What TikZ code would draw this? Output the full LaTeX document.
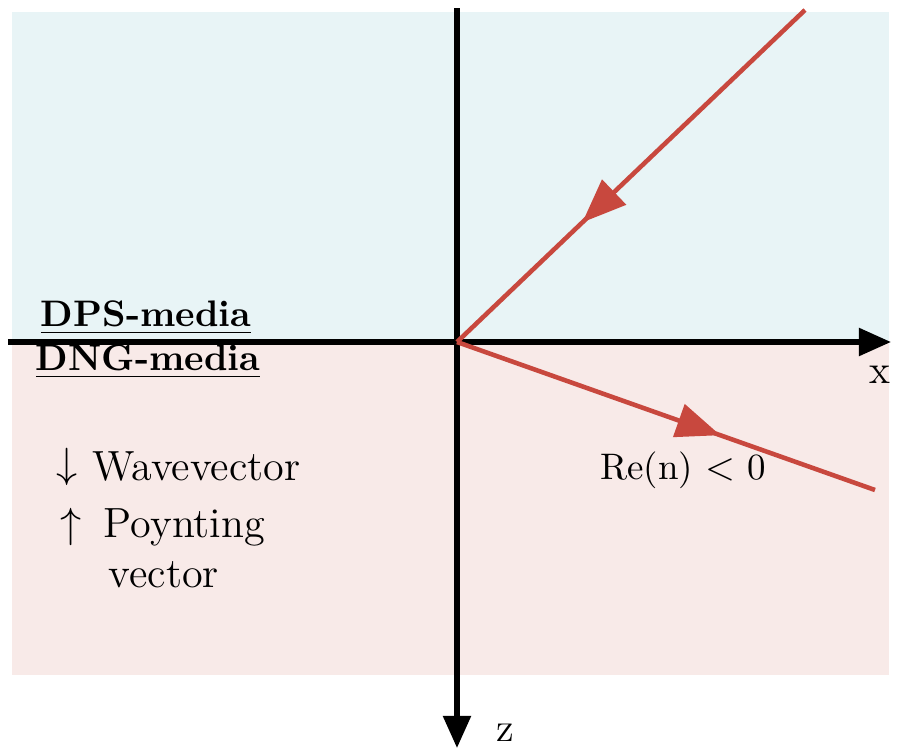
\documentclass[tikz,border=0pt]{standalone}
\usepackage{amsmath}
\usepackage{xcolor}
\usepackage{tikz}
\usetikzlibrary{arrows.meta, positioning, decorations.markings}

\definecolor{dpsblue}{RGB}{232,244,246}
\definecolor{dngpink}{RGB}{248,234,232}
\definecolor{rayred}{RGB}{200,72,62}

\begin{document}
\begin{tikzpicture}[
  x=0.01cm, y=-0.01cm,
  axis/.style={draw, line width=1.5pt, -{Triangle[length=3.2mm, width=2.7mm]}},
  ray/.style={draw=rayred, line width=1.3pt, postaction={decorate},
    decoration={markings, mark=at position #1 with {\arrow[rayred]{Triangle[length=4.4mm, width=3.4mm]}}}},
  medialabel/.style={font=\fontsize{10.5}{12}\selectfont\bfseries},
  legend/.style={font=\fontsize{12}{14}\selectfont, anchor=west, inner sep=0pt}
]
\useasboundingbox (0,0) rectangle (899,751);

% Media regions
\fill[dpsblue] (12,12) rectangle (889,342);
\fill[dngpink] (12,342) rectangle (889,675);

% Axes
\coordinate (o) at (457,342);
\coordinate (xstart) at (8,342);
\coordinate (xend) at (891,342);
\coordinate (zstart) at (457,8);
\coordinate (zend) at (457,748);
\draw [axis] (xstart) -- (xend);
\draw [axis] (zstart) -- (zend);
\node (xlabel) at (880,375) {\fontsize{11.5}{13}\selectfont x};
\node (zlabel) at (505,733) {\fontsize{11.5}{13}\selectfont z};

% Rays
\coordinate (inc) at (805,10);
\coordinate (refr) at (875,490);
\draw [ray=0.64] (inc) -- (o);
\draw [ray=0.63] (o) -- (refr);
\node (ren) at (683,470) {\fontsize{10.5}{12}\selectfont Re(n) $<$ 0};

% Media labels
\node (dps) [medialabel] at (146,318) {\underline{DPS-media}};
\node (dng) [medialabel] at (148,362) {\underline{DNG-media}};

% Legend
\node (down) [legend] at (56,467) {$\downarrow$};
\node (wave) [legend] at (92,467) {Wavevector};
\node (up)   [legend] at (60,527) {$\uparrow$};
\node (poyn) [legend] at (103,527) {Poynting};
\node (vec)  [legend] at (108,575) {vector};

\end{tikzpicture}
\end{document}
